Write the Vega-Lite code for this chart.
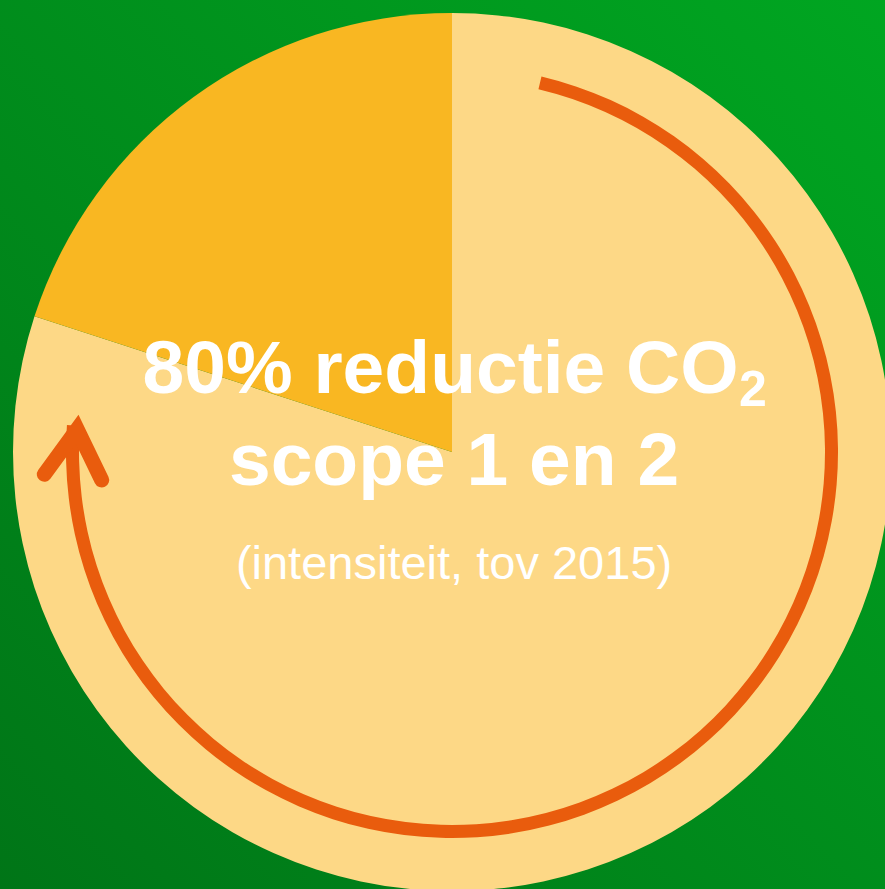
{
  "$schema": "https://vega.github.io/schema/vega-lite/v6.json",
  "width": 885,
  "height": 889,
  "autosize": {"type": "none"},
  "padding": 0,
  "background": "#008E1B",
  "config": {
    "view": {
      "stroke": null,
      "fill": {"gradient": "linear", "x1": 1, "y1": 0, "x2": 0, "y2": 1,
        "stops": [{"offset": 0, "color": "#00A621"}, {"offset": 1, "color": "#007517"}]}
    },
    "text": {"font": "Liberation Sans", "color": "#FFFFFF", "align": "center", "baseline": "alphabetic"}
  },
  "layer": [
    {
      "data": {"values": [
        {"segment": "reductie", "share": 80, "rank": 1},
        {"segment": "rest", "share": 20, "rank": 2}
      ]},
      "mark": {"type": "arc", "outerRadius": 439},
      "encoding": {
        "theta": {"field": "share", "type": "quantitative", "stack": true},
        "order": {"field": "rank"},
        "color": {"field": "segment", "type": "nominal", "scale": {"domain": ["reductie", "rest"], "range": ["#FDD886", "#F9B722"]}, "legend": null},
        "x": {"datum": 0, "type": "quantitative", "scale": {"domain": [-1.0296, 0.9863], "nice": false, "zero": false}, "axis": null},
        "y": {"datum": 0, "type": "quantitative", "scale": {"domain": [-0.9954, 1.0296], "nice": false, "zero": false}, "axis": null}
      }
    },
    {
      "data": {"values": [{"from": 13.4, "to": 274}]},
      "mark": {"type": "arc", "innerRadius": 373, "outerRadius": 386, "color": "#E95C0D"},
      "encoding": {
        "theta": {"field": "from", "type": "quantitative", "scale": {"domain": [0, 360]}},
        "theta2": {"field": "to"},
        "x": {"datum": 0, "type": "quantitative"},
        "y": {"datum": 0, "type": "quantitative"}
      }
    },
    {
      "data": {"values": [
        {"px": -0.9287, "py": -0.0508, "k": 1},
        {"px": -0.8538, "py": 0.0517, "k": 2},
        {"px": -0.798, "py": -0.0638, "k": 3}
      ]},
      "mark": {"type": "line", "color": "#E95C0D", "strokeWidth": 15, "strokeCap": "round", "strokeJoin": "miter"},
      "encoding": {
        "x": {"field": "px", "type": "quantitative"},
        "y": {"field": "py", "type": "quantitative"},
        "order": {"field": "k"}
      }
    },
    {
      "data": {"values": [{"label": "80% reductie CO"}]},
      "mark": {"type": "text", "fontSize": 75, "fontWeight": "bold"},
      "encoding": {
        "text": {"field": "label"},
        "x": {"datum": -0.0262, "type": "quantitative"},
        "y": {"datum": 0.1344, "type": "quantitative"}
      }
    },
    {
      "data": {"values": [{"label": "2"}]},
      "mark": {"type": "text", "fontSize": 50, "fontWeight": "bold", "align": "left"},
      "encoding": {
        "text": {"field": "label"},
        "x": {"datum": 0.6538, "type": "quantitative"},
        "y": {"datum": 0.1048, "type": "quantitative"}
      }
    },
    {
      "data": {"values": [{"label": "scope 1 en 2"}]},
      "mark": {"type": "text", "fontSize": 75, "fontWeight": "bold"},
      "encoding": {
        "text": {"field": "label"},
        "x": {"datum": 0.0046, "type": "quantitative"},
        "y": {"datum": -0.0752, "type": "quantitative"}
      }
    },
    {
      "data": {"values": [{"label": "(intensiteit, tov 2015)"}]},
      "mark": {"type": "text", "fontSize": 47, "fontWeight": "normal"},
      "encoding": {
        "text": {"field": "label"},
        "x": {"datum": 0.0046, "type": "quantitative"},
        "y": {"datum": -0.2893, "type": "quantitative"}
      }
    }
  ],
  "resolve": {"scale": {"theta": "independent", "color": "independent"}}
}
